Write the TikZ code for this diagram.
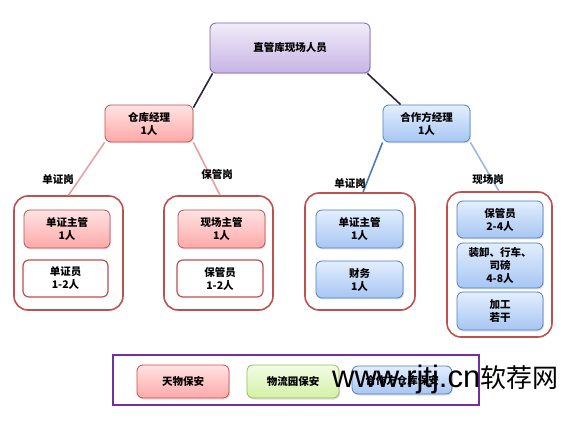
\documentclass[tikz,border=0pt]{standalone}
\usepackage{fontspec}
\setmainfont{Noto Sans CJK SC}
\newfontfamily\wmlatin{Liberation Sans}
\newfontfamily\wmcjk{Noto Sans CJK SC}
\usetikzlibrary{calc,shadows}
\definecolor{redB}{HTML}{C0504D}
\definecolor{redT}{HTML}{FFE3E3}
\definecolor{redD}{HTML}{FFA8A8}
\definecolor{bluB}{HTML}{4F81BD}
\definecolor{bluT}{HTML}{E3EEFD}
\definecolor{bluD}{HTML}{A7C6F3}
\definecolor{purB}{HTML}{8064A2}
\definecolor{purT}{HTML}{F1ECF9}
\definecolor{purD}{HTML}{C7B4E4}
\definecolor{grnB}{HTML}{9BBB59}
\definecolor{grnT}{HTML}{F3FCE6}
\definecolor{grnD}{HTML}{D3F1A6}
\definecolor{legB}{HTML}{7030A0}
\definecolor{topline}{HTML}{2E2240}
\definecolor{redline}{HTML}{E3A1A1}
\definecolor{bluline}{HTML}{4A7EBB}
\definecolor{bluline2}{HTML}{97BBE6}
\tikzset{
  box/.style={rounded corners=6pt, line width=0.8pt, align=center, inner sep=0pt,
    font=\fontsize{10.5}{13}\selectfont\bfseries,
    drop shadow={opacity=0.25, shadow xshift=1pt, shadow yshift=-1.5pt}},
  redbox/.style={box, draw=redB, top color=redT, bottom color=redD},
  bluebox/.style={box, draw=bluB, top color=bluT, bottom color=bluD},
  purbox/.style={box, draw=purB, top color=purT, bottom color=purD},
  grnbox/.style={box, draw=grnB, top color=grnT, bottom color=grnD},
  whitebox/.style={rounded corners=6pt, line width=1.2pt, draw=redB, fill=white, align=center,
    inner sep=0pt, font=\fontsize{10.5}{13}\selectfont\bfseries},
  group/.style={rounded corners=14pt, line width=1.6pt, draw=redB, fill=white, inner sep=0pt},
  lab/.style={font=\fontsize{10.5}{13}\selectfont\bfseries, inner sep=0pt},
  conn/.style={line width=1.6pt},
}
\begin{document}
\begin{tikzpicture}[x=1pt,y=-1pt]
\useasboundingbox (0,0) rectangle (568,422);
\node[purbox, minimum width=160pt, minimum height=50pt] (top) at (290,48) {直管库现场人员};
\node[redbox, minimum width=88pt, minimum height=37pt] (lm) at (149,123.5) {仓库经理\\1人};
\node[bluebox, minimum width=87pt, minimum height=37pt] (rm) at (426.5,123.5) {合作方经理\\1人};
\draw[conn, topline] ($(top.south west)+(3,0)$) -- ($(lm.north east)+(0,3)$);
\draw[conn, topline] ($(top.south east)+(-3,0)$) -- ($(rm.north west)+(18,0)$);
% groups
\node[group, minimum width=109pt, minimum height=114pt] (g1) at (68.5,253) {};
\node[group, minimum width=109pt, minimum height=114pt] (g2) at (218.5,253) {};
\node[group, minimum width=110pt, minimum height=117pt] (g3) at (360,251.5) {};
\node[group, minimum width=105pt, minimum height=145pt] (g4) at (499.5,264.5) {};
\draw[conn, redline] (lm.south west) -- (g1.north);
\draw[conn, redline] (lm.south east) -- ($(g2.north)+(1.5,0)$);
\draw[conn, bluline] (rm.south west) -- ($(g3.north)+(3,0)$);
\draw[conn, bluline2] (rm.south east) -- ($(g4.north)+(-0.5,0)$);
% labels
\node[lab] (la) at (58,180) {单证岗};
\node[lab] (lb) at (217,174) {保管岗};
\node[lab] (lc) at (350,184) {单证岗};
\node[lab] (ld) at (488,180) {现场岗};
% inner boxes
\node[redbox, minimum width=86pt, minimum height=38pt] (a1) at (67,229) {单证主管\\1人};
\node[whitebox, minimum width=85pt, minimum height=37pt] (a2) at (65.5,278.5) {单证员\\1-2人};
\node[redbox, minimum width=87pt, minimum height=38pt] (b1) at (221.5,229) {现场主管\\1人};
\node[whitebox, minimum width=86pt, minimum height=37pt] (b2) at (220,278.5) {保管员\\1-2人};
\node[bluebox, minimum width=87pt, minimum height=38pt] (c1) at (359.5,229) {单证主管\\1人};
\node[bluebox, minimum width=87pt, minimum height=37pt] (c2) at (359.5,279.5) {财务\\1人};
\node[bluebox, minimum width=86pt, minimum height=37pt] (d1) at (500,219.5) {保管员\\2-4人};
\node[bluebox, minimum width=86pt, minimum height=45pt] (d2) at (500,265.5) {装卸、行车、\\司磅\\4-8人};
\node[bluebox, minimum width=86pt, minimum height=38pt] (d3) at (500,311) {加工\\若干};
% legend
\node[draw=legB, line width=1.6pt, minimum width=366pt, minimum height=50pt, inner sep=0pt] (leg) at (296,380) {};
\node[redbox, minimum width=92pt, minimum height=33pt] (l1) at (183,381.5) {天物保安};
\node[grnbox, minimum width=92pt, minimum height=33pt] (l2) at (293,381.5) {物流园保安};
\node[bluebox, minimum width=100pt, minimum height=28pt] (l3) at (402,380) {合作方仓库保安};
% watermark
\node[anchor=base west, inner sep=0pt] (wm) at (332,387) {\wmlatin\fontsize{31}{32}\selectfont www.rjtj.cn\wmcjk\fontsize{26}{28}\selectfont 软荐网};
\end{tikzpicture}
\end{document}
